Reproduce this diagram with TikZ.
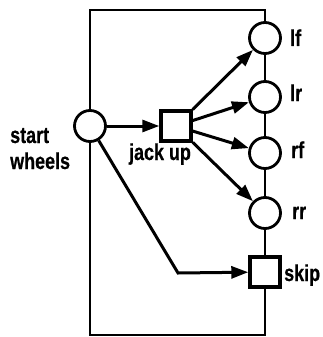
\documentclass[tikz,border=0pt]{standalone}
\usepackage{fontspec}
\setmainfont{Liberation Sans}
\newfontfamily\narrowbold[FakeStretch=0.78,FakeBold=0.6]{Liberation Sans Bold}
\usetikzlibrary{arrows.meta}
\begin{document}
\begin{tikzpicture}[x=1pt,y=-1pt,
  place/.style={circle,draw,line width=2.8pt,minimum size=31pt,inner sep=0pt,fill=white},
  trans/.style={rectangle,draw,line width=3.4pt,minimum size=30pt,inner sep=0pt,fill=white},
  arc/.style={line width=3pt,-{Triangle[length=17pt,width=12pt]}},
  frame/.style={line width=1.4pt},
  lbl/.style={font=\narrowbold\fontsize{23}{26}\selectfont,inner sep=0pt}]
\useasboundingbox (0,0) rectangle (323,337);
% surrounding frame, right side runs through the wheel places
\coordinate (tl) at (90,10);
\coordinate (tr) at (265,10);
\coordinate (bl) at (90,335);
\coordinate (br) at (265,335);
\draw[frame] (bl) -- (tl) -- (tr) -- (br) -- cycle;
% places and transitions
\node[place] (start) at (90,126) {};
\node[trans] (jack) at (176,126) {};
\node[place] (lf) at (265,38) {};
\node[place] (lr) at (265,97) {};
\node[place] (rf) at (265,153) {};
\node[place] (rr) at (265,213) {};
\node[trans] (skip) at (265,272) {};
% labels
\node[lbl,anchor=base west,align=left] (startlbl) at (10,169) {start\\wheels};
\node[lbl,anchor=base] (jacklbl) at (160,160) {jack up};
\node[lbl,anchor=base west] (lflbl) at (290,46) {lf};
\node[lbl,anchor=base west] (lrlbl) at (290,101) {lr};
\node[lbl,anchor=base west] (rflbl) at (291,158) {rf};
\node[lbl,anchor=base west] (rrlbl) at (292,219) {rr};
\node[lbl,anchor=base west] (skiplbl) at (284,281) {skip};
% arcs
\coordinate (bend) at (178,273);
\draw[arc] (start) -- (jack);
\draw[arc] (jack) -- (lf);
\draw[arc] (jack) -- (lr);
\draw[arc] (jack) -- (rf);
\draw[arc] (jack) -- (rr);
\draw[arc] (start) -- (bend) -- (skip);
\end{tikzpicture}
\end{document}
